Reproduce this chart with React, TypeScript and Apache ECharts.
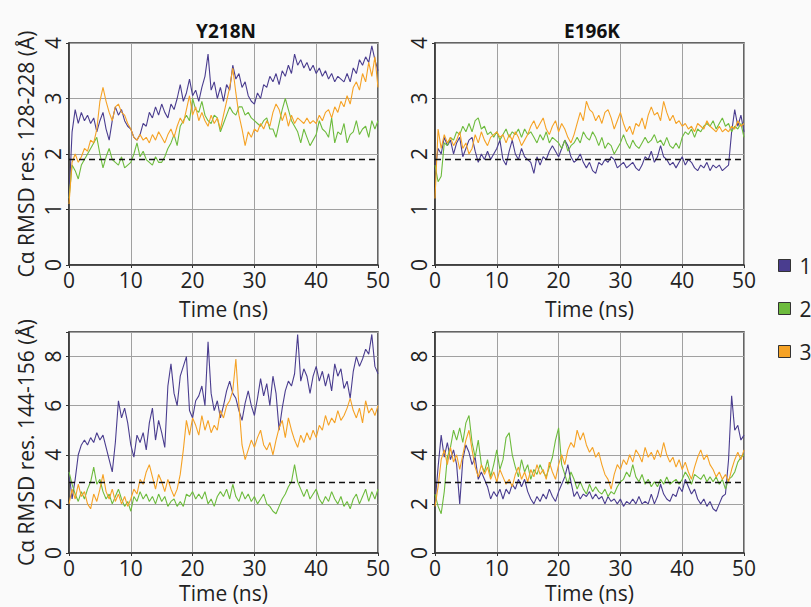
import React, { useEffect, useRef } from "react";
import * as echarts from "echarts";

// time in ns, one sample every 0.5 ns
const times: number[] = Array.from({ length: 101 }, (_, i) => i * 0.5);

const seriesNames = ["1", "2", "3"];
const panelTitles = ["Y218N", "E196K"];
const topAxisName = "Cα RMSD res. 128-228 (Å)";
const bottomAxisName = "Cα RMSD res. 144-156 (Å)";
const xAxisName = "Time (ns)";
const topRef = 1.9;
const bottomRef = 2.9;

// Y218N, residues 128-228
const tl1 = [
  1.2, 2.4, 2.8, 2.55, 2.75, 2.6, 2.7, 2.55, 2.65, 2.4,
  2.6, 2.75, 2.45, 2.25, 2.6, 2.85, 2.7, 2.8, 2.6, 2.5,
  2.45, 2.3, 2.25, 2.35, 2.55, 2.5, 2.75, 2.65, 2.85, 2.7,
  2.9, 2.75, 2.65, 2.9, 2.8, 3.0, 3.25, 2.95, 3.1, 3.35,
  3.05, 3.15, 2.95, 3.2, 3.4, 3.8, 3.15, 3.3, 3.0, 3.2,
  2.95, 3.25, 3.15, 3.6, 3.35, 3.45, 3.2, 3.3, 3.05, 2.95,
  2.9, 3.1, 3.0, 3.25, 3.2, 3.4, 3.3, 3.45, 3.25, 3.5,
  3.4, 3.6, 3.45, 3.8, 3.6, 3.7, 3.55, 3.65, 3.5, 3.6,
  3.45, 3.55, 3.4, 3.5, 3.35, 3.45, 3.3, 3.4, 3.35, 3.3,
  3.45, 3.3, 3.55, 3.45, 3.7, 3.6, 3.75, 3.65, 3.95, 3.7,
  3.5,
];
const tl2 = [
  1.2, 1.8, 1.7, 1.55, 1.8, 1.9, 2.0, 2.1, 2.2, 2.3,
  2.0, 1.75, 1.95, 2.1, 1.9, 1.85, 1.8, 1.95, 1.75, 1.8,
  1.85, 2.0, 2.2, 1.95, 2.05, 1.9, 1.85, 1.8, 1.95, 1.85,
  1.85, 1.95, 2.1, 2.2, 2.35, 2.15, 2.5, 2.6, 2.7, 2.6,
  3.0, 2.8, 2.75, 2.95, 2.7, 2.6, 2.55, 2.7, 2.65, 2.4,
  2.55, 2.7, 2.85, 2.75, 2.7, 2.85, 2.85, 2.7, 2.75, 2.65,
  2.6, 2.55, 2.5, 2.6, 2.65, 2.45, 2.45, 2.3, 2.55, 2.8,
  3.0, 2.8, 2.6, 2.5, 2.4, 2.2, 2.45, 2.3, 2.15, 2.25,
  2.35, 2.6, 2.45, 2.4, 2.3, 2.65, 2.2, 2.4, 2.35, 2.55,
  2.2, 2.35, 2.4, 2.6, 2.35, 2.45, 2.5, 2.3, 2.6, 2.45,
  2.6,
];
const tl3 = [
  1.1, 1.85, 2.0, 1.85, 1.95, 2.1, 2.05, 2.25, 2.2, 2.45,
  2.95, 3.2, 2.95, 2.75, 2.6, 2.85, 2.9, 2.75, 2.7, 2.55,
  2.45, 2.3, 2.25, 2.35, 2.25, 2.3, 2.2, 2.35, 2.25, 2.4,
  2.3, 2.2, 2.35, 2.45, 2.3, 2.5, 2.65, 2.55, 2.8, 3.05,
  2.7, 2.85, 2.6, 2.75, 2.6, 2.5, 2.7, 2.55, 2.65, 2.45,
  2.7, 2.95, 3.2, 3.55, 3.1, 2.7, 2.45, 2.15, 2.4, 2.3,
  2.45, 2.4, 2.55, 2.45, 2.6, 2.5, 2.75, 2.9, 2.8, 2.6,
  2.75, 2.5, 2.7, 2.55, 2.65, 2.6, 2.55, 2.65, 2.55, 2.6,
  2.55, 2.7, 2.6, 2.75, 2.8, 2.65, 2.85, 2.75, 2.95, 2.85,
  3.05, 2.9, 3.2, 3.3, 3.15, 3.45, 3.3, 3.65, 3.4, 3.75,
  3.2,
];

// E196K, residues 128-228
const tr1 = [
  1.7, 2.1, 2.0, 2.3, 2.15, 2.25, 2.0, 2.2, 2.3, 1.95,
  2.1, 2.25, 2.3, 2.05, 1.85, 2.0, 1.9, 2.05, 1.9, 2.0,
  2.1, 2.25, 1.9, 1.8, 2.05, 2.25, 2.0, 1.9, 2.1, 1.95,
  1.9, 1.85, 1.65, 1.95, 1.8, 1.95, 1.9, 2.05, 2.15, 2.05,
  1.95, 2.1, 2.25, 2.15, 1.95, 1.85, 1.9, 2.0, 1.85, 1.75,
  1.85, 1.7, 1.65, 1.85, 1.8, 1.9, 1.85, 1.95, 1.9, 1.75,
  1.8, 1.85, 1.75, 1.8, 1.85, 1.75, 1.7, 1.8, 1.95, 1.9,
  2.05, 1.85, 1.95, 2.15, 1.95, 1.9, 1.8, 1.85, 1.75, 1.85,
  1.95, 1.8, 1.9, 1.85, 1.75, 1.7, 1.8, 1.75, 1.85, 1.7,
  1.8, 1.75, 1.8, 1.7, 1.75, 1.8, 2.4, 2.8, 2.5, 2.7,
  2.4,
];
const tr2 = [
  1.8, 1.5, 1.6, 2.2, 2.15, 2.3, 2.25, 2.4, 2.35, 2.5,
  2.4, 2.55, 2.4, 2.6, 2.65, 2.45, 2.5, 2.35, 2.4, 2.3,
  2.4, 2.25, 2.35, 2.45, 2.3, 2.4, 2.35, 2.45, 2.3, 2.45,
  2.35, 2.4, 2.3, 2.2, 2.35, 2.25, 2.4, 2.2, 2.3, 2.25,
  2.2, 2.1, 2.25, 2.05, 2.15, 2.2, 2.3, 2.2, 2.4, 2.3,
  2.25, 2.4, 2.3, 2.15, 2.3, 2.1, 2.2, 2.15, 2.0, 2.1,
  2.2, 2.35, 2.2, 2.1, 2.25, 2.15, 2.1, 2.2, 2.3, 2.2,
  2.25, 2.35, 2.2, 2.25, 2.15, 2.3, 2.15, 2.1, 2.2, 2.1,
  2.3, 2.4, 2.35, 2.45, 2.3, 2.45, 2.4, 2.5, 2.55, 2.5,
  2.6, 2.45, 2.55, 2.65, 2.5, 2.55, 2.4, 2.5, 2.45, 2.55,
  2.3,
];
const tr3 = [
  1.2, 2.45, 2.1, 2.35, 2.2, 2.3, 2.15, 2.25, 2.4, 2.1,
  2.2, 2.0, 2.1, 2.35, 2.2, 2.4, 2.25, 2.15, 2.3, 2.35,
  2.4, 2.3, 2.35, 2.2, 2.35, 2.25, 2.4, 2.3, 2.15, 2.25,
  2.35, 2.5, 2.6, 2.45, 2.55, 2.65, 2.45, 2.35, 2.5, 2.6,
  2.4, 2.55, 2.45, 2.3, 2.2, 2.35, 2.55, 2.75, 2.6, 2.95,
  2.8, 2.75, 2.6, 2.7, 2.55, 2.75, 2.8, 2.65, 2.45, 2.6,
  2.75, 2.55, 2.4, 2.5, 2.35, 2.55, 2.5, 2.65, 2.45, 2.7,
  2.85, 2.7, 2.75, 2.6, 2.95, 2.75, 2.6, 2.7, 2.55, 2.6,
  2.5, 2.55, 2.45, 2.5, 2.4, 2.55, 2.5, 2.45, 2.6, 2.5,
  2.45, 2.4, 2.5, 2.4, 2.45, 2.4, 2.5, 2.45, 2.6, 2.5,
  2.55,
];

// Y218N, residues 144-156
const bl1 = [
  3.3, 2.2, 3.0, 4.0, 4.4, 4.6, 4.4, 4.7, 4.5, 4.9,
  4.6, 4.8, 4.3, 3.8, 3.3, 4.5, 6.2, 5.5, 5.9, 5.3,
  4.4, 3.9, 4.8, 4.5, 4.9, 4.2, 5.3, 5.9, 4.6, 5.4,
  4.9, 4.3, 6.8, 7.7, 6.5, 6.0, 7.2, 7.6, 8.0, 5.8,
  5.5, 6.2, 6.4, 6.8, 6.0, 8.6, 6.5, 5.8, 6.2, 5.5,
  6.0, 6.6, 7.0, 6.5, 6.3, 5.8, 5.4, 6.1, 6.6, 6.0,
  5.6, 6.3, 7.1, 6.4, 6.9, 6.0, 7.2, 6.5, 5.0, 5.9,
  6.6, 7.0, 6.8, 7.3, 8.9, 7.0, 7.5, 7.2, 6.5, 7.2,
  7.6, 7.0, 7.4, 6.8, 7.3, 6.6, 7.7, 7.2, 7.5, 6.7,
  7.0, 6.3, 7.4, 8.0, 7.6, 7.9, 8.3, 8.1, 8.9, 7.6,
  7.3,
];
const bl2 = [
  3.3, 2.8, 2.4, 2.1, 2.5, 2.2, 2.6, 2.9, 3.5, 2.8,
  3.0, 2.5, 2.2, 2.4, 2.0, 2.3, 2.6, 2.2, 1.9, 2.1,
  1.7, 2.3, 2.1, 2.5, 2.2, 2.4, 2.1, 2.3, 2.0, 2.4,
  2.1, 2.3, 1.9, 2.1, 2.2, 1.9, 2.1, 1.9, 2.4, 2.3,
  2.5, 2.2, 2.4, 2.2, 2.5, 2.0, 2.2, 1.9, 2.3, 2.5,
  2.3, 2.6, 2.2, 2.8, 2.3, 2.1, 2.5, 2.2, 2.4, 2.1,
  2.3, 2.0, 2.2, 2.4, 2.0, 1.9, 1.7, 1.6, 1.9, 2.2,
  2.4, 2.7, 2.9, 3.6, 2.9, 2.6, 2.3, 2.6, 2.2, 2.4,
  2.6, 2.2, 2.0, 2.3, 2.1, 2.5, 2.2, 2.0, 2.3, 1.9,
  2.1, 1.8, 2.2, 2.4, 2.0, 2.3, 2.6, 2.1, 2.5, 2.2,
  2.6,
];
const bl3 = [
  2.0, 2.6, 2.2, 2.8, 2.3, 2.5, 2.0, 1.8, 2.4, 2.1,
  2.6, 3.2, 2.5, 2.2, 2.6, 2.1, 2.4, 2.0, 2.3, 1.9,
  2.2, 2.6, 2.4, 3.0, 2.8, 3.3, 3.6, 3.1, 2.6, 3.2,
  2.9, 2.5, 3.0, 2.6, 2.3, 2.6, 3.2, 4.2, 5.4, 4.8,
  5.5, 5.2, 4.8, 5.6, 5.0, 5.4, 4.9, 5.2, 5.0, 5.8,
  5.5, 6.0, 6.2, 6.6, 7.9, 6.0, 4.4, 3.8, 4.2, 4.6,
  4.3, 4.7, 5.0, 4.4, 4.2, 4.5, 4.0, 4.6, 5.1, 5.4,
  4.7, 5.5, 5.0, 4.6, 4.3, 4.8, 4.5, 4.9, 4.6, 5.0,
  4.7, 5.2, 5.0, 5.6, 5.2, 5.5, 5.3, 5.8, 5.4, 5.6,
  5.9, 6.3, 5.8, 5.5, 5.9, 5.3, 6.2, 5.7, 5.9, 5.6,
  6.0,
];

// E196K, residues 144-156
const br1 = [
  2.0, 3.5, 4.8, 3.9, 4.5, 3.8, 4.2, 3.6, 2.0, 3.8,
  4.4, 4.1, 3.6, 3.9, 3.0, 3.3, 3.0, 2.7, 2.2, 2.5,
  2.3, 2.6, 2.2, 2.6, 2.4, 2.8, 2.6, 3.0, 2.7, 3.0,
  2.5, 2.2, 2.0, 2.3, 2.1, 2.4, 2.2, 2.6, 2.3, 2.1,
  2.5, 2.8, 3.1, 3.6, 2.9, 2.3, 2.5, 2.2, 2.4, 2.3,
  2.5, 2.2, 2.4, 2.2, 2.3, 2.0, 2.3, 2.1, 2.2, 2.0,
  2.2, 1.9, 2.1, 2.0, 2.2, 2.0, 2.3, 2.0, 2.1, 2.0,
  2.4, 2.0, 2.3, 2.8, 2.4, 2.2, 2.1, 2.4, 2.3, 2.7,
  2.5, 3.0, 2.7, 2.4, 2.6, 2.2, 2.0, 2.2, 1.9, 2.1,
  1.8, 1.7, 2.0, 2.3, 2.4, 3.8, 6.4, 5.0, 5.2, 4.6,
  4.8,
];
const br2 = [
  2.4, 1.9, 1.6, 2.5, 3.9, 4.3, 5.0, 4.6, 5.1, 4.5,
  5.3, 5.6, 4.5, 3.9, 4.6, 3.6, 3.3, 3.8, 3.1, 3.6,
  4.2, 3.4, 3.8, 4.7, 4.9, 4.0, 3.5, 3.1, 3.8, 3.3,
  3.6, 3.0, 3.4, 3.2, 3.6, 3.3, 3.1, 3.5, 3.9, 4.6,
  5.1, 3.6, 3.2, 2.8, 3.3, 3.0, 2.6, 2.9, 2.6, 2.4,
  2.8, 2.5, 2.7, 2.5, 2.4, 2.6, 2.3, 2.5, 2.4, 2.7,
  2.9, 3.0, 3.3, 3.1, 3.6, 3.1, 2.9, 3.2, 2.8, 3.0,
  2.7, 2.9, 2.7, 3.0, 2.8, 3.1, 2.8, 2.9, 3.0, 2.8,
  3.0, 3.3, 3.1, 2.8, 3.2, 3.1, 3.0, 3.2, 2.9, 3.1,
  2.9, 3.1, 2.8, 3.0, 2.6, 3.0, 3.1, 3.3, 3.7, 3.9,
  4.0,
];
const br3 = [
  1.9, 2.7, 3.8, 4.2, 3.6, 4.3, 3.7, 4.0, 3.4, 4.0,
  4.6, 5.0, 4.2, 3.5, 3.1, 3.6, 3.2, 3.5, 3.0, 3.3,
  2.9, 3.4, 3.1, 2.8, 3.0, 2.7, 3.2, 3.5, 3.0, 3.3,
  2.9, 3.4, 3.1, 3.6, 3.2, 3.4, 3.0, 3.7, 3.3, 3.0,
  3.6, 4.0, 3.6, 4.2, 4.5, 4.3, 5.0, 4.6, 4.9, 4.4,
  4.1, 4.3, 3.9, 4.1, 3.6, 3.2, 3.0, 2.6, 3.2, 3.6,
  3.4, 3.8, 3.6, 4.0, 3.7, 4.2, 4.0, 3.7, 4.3, 3.9,
  4.1, 3.8, 4.2, 3.9, 4.5, 4.0, 3.7, 3.9, 3.5, 3.8,
  3.4, 3.7, 3.3, 3.0, 3.5, 3.9, 4.2, 3.8, 4.0, 3.6,
  3.4, 3.1, 3.3, 3.0, 3.2, 2.9, 3.4, 3.8, 4.1, 3.8,
  4.2,
];

const COLORS = ["#4a3d8f", "#6dbb3d", "#f5a225"];
const FONT = '"Open Sans", "Noto Sans", sans-serif';

export default function App() {
  const ref = useRef<HTMLDivElement>(null);

  useEffect(() => {
    if (!ref.current) return;
    const chart = echarts.init(ref.current, null, { renderer: "svg" });

    const panels = [
      { data: [tl1, tl2, tl3], left: 69, top: 43, height: 222, max: 4, interval: 1, ref: topRef, name: topAxisName, xGap: 33 },
      { data: [tr1, tr2, tr3], left: 435, top: 43, height: 222, max: 4, interval: 1, ref: topRef, name: "", xGap: 33 },
      { data: [bl1, bl2, bl3], left: 69, top: 332, height: 221, max: 9, interval: 2, ref: bottomRef, name: bottomAxisName, xGap: 29 },
      { data: [br1, br2, br3], left: 435, top: 332, height: 221, max: 9, interval: 2, ref: bottomRef, name: "", xGap: 29 },
    ];

    const grid = panels.map((p) => ({
      left: p.left,
      top: p.top,
      width: 309,
      height: p.height,
      show: true,
      borderColor: "#333",
      borderWidth: 1.5,
      backgroundColor: "transparent",
    }));

    const xAxis = panels.map((p, i) => ({
      type: "value",
      gridIndex: i,
      min: 0,
      max: 50,
      interval: 10,
      name: xAxisName,
      nameLocation: "middle",
      nameGap: p.xGap,
      nameTextStyle: { fontSize: 21, color: "#222", fontFamily: FONT, lineHeight: 22 },
      axisLine: { show: true, onZero: false, lineStyle: { color: "#333", width: 1.5 } },
      axisTick: { show: true, length: 3, lineStyle: { color: "#333" } },
      axisLabel: { fontSize: 21, color: "#222", margin: 4, fontFamily: FONT },
      splitLine: { show: true, lineStyle: { color: "#a0a0a0", width: 1 } },
    }));

    const yAxis = panels.map((p, i) => ({
      type: "value",
      gridIndex: i,
      min: 0,
      max: p.max,
      interval: p.interval,
      name: p.name,
      nameLocation: "middle",
      nameGap: 33,
      nameTextStyle: { fontSize: 21, color: "#222", fontFamily: FONT },
      axisLine: { show: true, onZero: false, lineStyle: { color: "#333", width: 1.5 } },
      axisTick: { show: true, length: 3, lineStyle: { color: "#333" } },
      axisLabel: {
        fontSize: 21,
        color: "#222",
        rotate: 90,
        margin: 6,
        fontFamily: FONT,
        formatter: (v: number) => (p.max === 9 && v === 9 ? "" : String(v)),
      },
      splitLine: { show: true, lineStyle: { color: "#a0a0a0", width: 1 } },
    }));

    const series: any[] = [];
    panels.forEach((p, g) => {
      p.data.forEach((arr, k) => {
        series.push({
          type: "line",
          name: seriesNames[k],
          xAxisIndex: g,
          yAxisIndex: g,
          data: times.map((t, j) => [t, arr[j]]),
          showSymbol: false,
          symbol: "none",
          color: COLORS[k],
          lineStyle: { color: COLORS[k], width: 1.1 },
          itemStyle: { color: COLORS[k], borderColor: "#333", borderWidth: 1 },
          z: 2 + k,
          markLine:
            k === 0
              ? {
                  silent: true,
                  symbol: ["none", "none"],
                  label: { show: false },
                  lineStyle: { color: "#111", type: [6, 4], width: 1.3 },
                  data: [{ yAxis: p.ref }],
                  z: 10,
                }
              : undefined,
        });
      });
    });

    const option: any = {
      animation: false,
      backgroundColor: "#fafafa",
      textStyle: { fontFamily: FONT },
      grid,
      xAxis,
      yAxis,
      series,
      legend: {
        data: seriesNames,
        orient: "vertical",
        left: 773,
        top: 250,
        icon: "rect",
        itemWidth: 12,
        itemHeight: 12,
        itemGap: 22,
        itemStyle: { borderColor: "#333", borderWidth: 1 },
        textStyle: { fontSize: 21, color: "#222", fontFamily: FONT, padding: [0, 0, 0, 4] },
      },
      graphic: [
        {
          type: "text",
          x: 226,
          y: 31,
          style: { text: panelTitles[0], align: "center", verticalAlign: "middle", font: `bold 19px ${FONT}`, fill: "#111" },
        },
        {
          type: "text",
          x: 592,
          y: 31,
          style: { text: panelTitles[1], align: "center", verticalAlign: "middle", font: `bold 19px ${FONT}`, fill: "#111" },
        },
      ],
    };

    chart.setOption(option);
    return () => chart.dispose();
  }, []);

  return (
    <div
      ref={ref}
      style={{ position: "fixed", left: 0, top: 0, width: 811, height: 607, background: "#fafafa" }}
    />
  );
}
